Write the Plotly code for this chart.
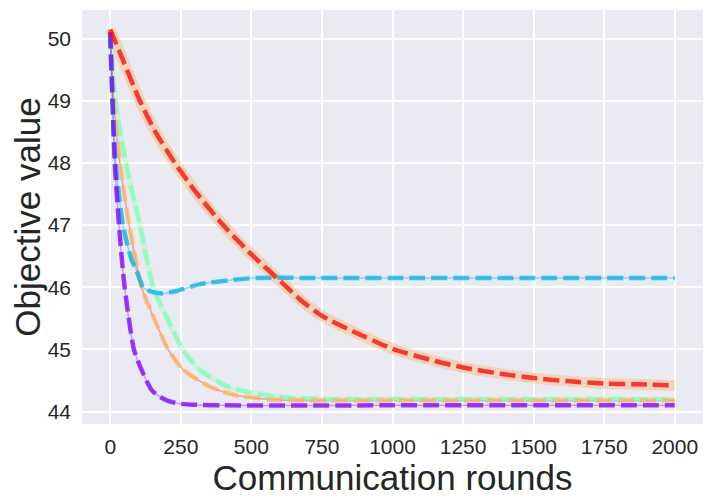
import plotly.graph_objects as go

# --- data ---
purple_x = [0, 8, 16, 31, 51, 84, 111, 146, 175, 200, 240, 295, 400, 1000, 1500, 2000]
purple_y = [50.1, 49.0, 48.0, 47.0, 46.0, 45.0, 44.67, 44.35, 44.24, 44.18, 44.13, 44.11, 44.10, 44.10, 44.10, 44.10]

blue_x = [0, 8, 19, 45, 75, 93, 117, 151, 188, 235, 318, 436, 519, 700, 1000, 1500, 2000]
blue_y = [50.1, 49.0, 48.0, 47.0, 46.45, 46.27, 46.0, 45.92, 45.90, 45.94, 46.05, 46.12, 46.15, 46.15, 46.15, 46.15, 46.15]

orange_x = [0, 12, 34, 67, 111, 158, 205, 259, 353, 436, 555, 700, 1000, 1500, 2000]
orange_y = [50.1, 49.0, 48.0, 47.0, 46.0, 45.47, 45.0, 44.67, 44.40, 44.27, 44.20, 44.18, 44.18, 44.18, 44.18]

green_x = [0, 18, 55, 105, 152, 205, 256, 318, 418, 543, 637, 800, 1000, 1500, 2000]
green_y = [50.1, 49.0, 48.0, 47.0, 46.0, 45.47, 45.0, 44.67, 44.40, 44.27, 44.22, 44.20, 44.20, 44.20, 44.20]

red_x = [0, 50, 105, 160, 229, 300, 400, 500, 626, 673, 750, 851, 1000, 1144, 1250, 1382, 1500, 1618, 1750, 1857, 2000]
red_y = [50.15, 49.6, 49.0, 48.5, 48.0, 47.55, 47.0, 46.53, 46.0, 45.80, 45.54, 45.31, 45.01, 44.82, 44.71, 44.61, 44.54, 44.49, 44.45, 44.44, 44.42]

x_ticks = [0, 250, 500, 750, 1000, 1250, 1500, 1750, 2000]
y_ticks = [44, 45, 46, 47, 48, 49, 50]

# rainbow colours
PURPLE = "128,0,255"
BLUE = "0,180,235"
GREEN = "128,255,180"
ORANGE = "255,180,98"
RED = "255,0,0"

fig = go.Figure()

def under(x, y, rgb, alpha, width):
    fig.add_trace(go.Scatter(x=x, y=y, mode="lines", showlegend=False, hoverinfo="skip",
                             line=dict(color=f"rgba({rgb},{alpha})", width=width,
                                       shape="spline", smoothing=0.6)))

def dashed(x, y, rgb):
    fig.add_trace(go.Scatter(x=x, y=y, mode="lines", showlegend=False,
                             line=dict(color=f"rgba({rgb},0.75)", width=4.5, dash="16px,6px",
                                       shape="spline", smoothing=0.6)))

# underlays
under(red_x, red_y, ORANGE, 0.4, 11)
under(green_x, green_y, GREEN, 0.25, 5.5)
under(orange_x, orange_y, RED, 0.35, 1.5)
under(blue_x, blue_y, BLUE, 0.4, 1.5)
under(purple_x, purple_y, PURPLE, 0.35, 1.5)

# dashed curves
dashed(green_x, green_y, GREEN)
dashed(orange_x, orange_y, ORANGE)
dashed(blue_x, blue_y, BLUE)
dashed(purple_x, purple_y, PURPLE)
dashed(red_x, red_y, RED)

# page body has an 8px margin, so the figure is a bit smaller than the window
fig.update_layout(
    width=703, height=494,
    margin=dict(l=74, r=8, t=2, b=78, autoexpand=False),
    paper_bgcolor="white",
    plot_bgcolor="#eaeaf2",
    font=dict(family="Liberation Sans, Arial, sans-serif", color="#262626"),
    xaxis=dict(
        range=[-100, 2100], tickvals=x_ticks, showgrid=True, gridcolor="white", gridwidth=1.5,
        zeroline=False, showline=False, ticks="", tickfont=dict(size=21), ticklabelstandoff=8,
        automargin=False,
        title=dict(text="Communication rounds", font=dict(size=35), standoff=4),
    ),
    yaxis=dict(
        range=[43.80, 50.46], tickvals=y_ticks, showgrid=True, gridcolor="white", gridwidth=1.5,
        zeroline=False, showline=False, ticks="", tickfont=dict(size=21), ticklabelstandoff=10,
        automargin=False,
        title=dict(text="Objective value", font=dict(size=35), standoff=4),
    ),
)

fig.write_html("out.html")
